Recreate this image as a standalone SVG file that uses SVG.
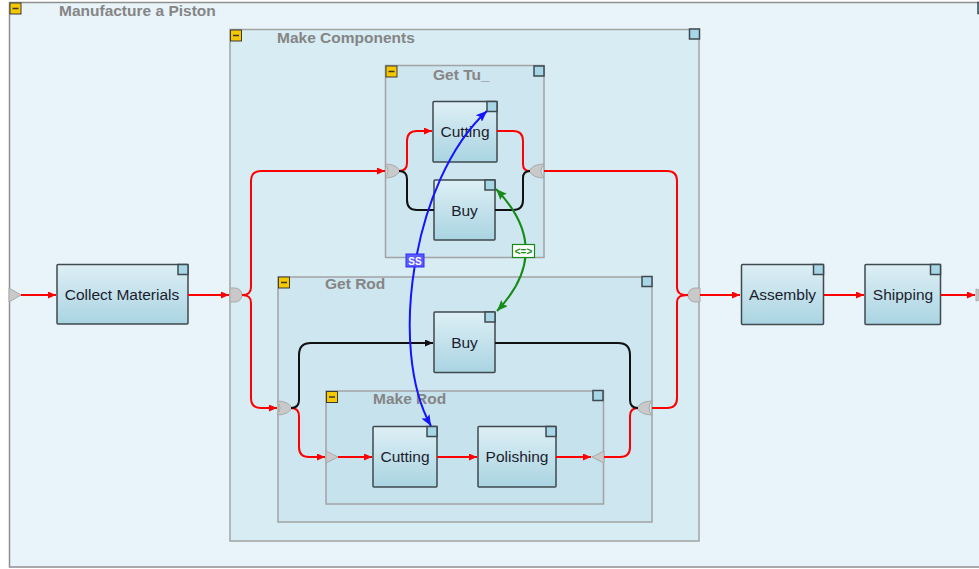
<svg xmlns="http://www.w3.org/2000/svg" width="979" height="569" viewBox="0 0 979 569">
<defs>
<linearGradient id="ng" x1="0" y1="0" x2="0" y2="1">
<stop offset="0" stop-color="#deeff5"/>
<stop offset="1" stop-color="#a9d4e2"/>
</linearGradient>
<marker id="ar" markerUnits="userSpaceOnUse" markerWidth="8" markerHeight="7" refX="8" refY="3.5" orient="auto"><path d="M0,0 L8,3.5 L0,7 z" fill="#ff0000"/></marker>
<marker id="ak" markerUnits="userSpaceOnUse" markerWidth="8" markerHeight="7" refX="8" refY="3.5" orient="auto"><path d="M0,0 L8,3.5 L0,7 z" fill="#111111"/></marker>
<marker id="ab" markerUnits="userSpaceOnUse" markerWidth="11" markerHeight="9" refX="11" refY="4.5" orient="auto-start-reverse"><path d="M0,0 L11,4.5 L0,9 L2,4.5 z" fill="#1414ff"/></marker>
<marker id="ag" markerUnits="userSpaceOnUse" markerWidth="11" markerHeight="9" refX="11" refY="4.5" orient="auto-start-reverse"><path d="M0,0 L11,4.5 L0,9 L2,4.5 z" fill="#178a17"/></marker>
</defs>
<style>
.grp{stroke:#a3a3a3;stroke-width:1.5}
.ttl{font-family:"Liberation Sans",Arial,sans-serif;font-weight:bold;font-size:15.5px;fill:#858585}
.node{fill:url(#ng);stroke:#3f494e;stroke-width:1.5}
.sq{fill:#a7d6e6;stroke:#3f494e;stroke-width:1.5}
.ico{fill:#f5c800;stroke:#3a3a3a;stroke-width:1}
.dash{stroke:#3a3a3a;stroke-width:1.5}
.lbl{font-family:"Liberation Sans",Arial,sans-serif;font-size:15.5px;fill:#1c1c2c;text-anchor:middle}
.jn{fill:#c9c9c9;stroke:#a9a9a9;stroke-width:1}
.r{fill:none;stroke:#ff0000;stroke-width:2}
.k{fill:none;stroke:#111111;stroke-width:2}
</style>
<rect x="0" y="0" width="979" height="569" fill="#ffffff"/>

<g id="manufacture-a-piston">
<rect x="9.5" y="2.5" width="990" height="564.5" fill="#e8f4f9" stroke="#8f8f8f" stroke-width="1.5"/>
<rect x="10" y="3" width="11" height="11" class="ico"/><line x1="12.5" y1="8.5" x2="18.5" y2="8.5" class="dash"/>
<text x="59" y="16" class="ttl">Manufacture a Piston</text>
<rect x="978" y="2.5" width="11" height="11" class="sq"/>
<path d="M9,288 L21,295 L9,302 z" class="jn"/>
<path d="M976,289 L979,290 L979,300 L976,301 z" class="jn"/>
</g>

<g id="make-components">
<rect x="230" y="29.5" width="469" height="511.5" fill="#d8ecf4" class="grp"/>
<rect x="230.5" y="30" width="11" height="11" class="ico"/><line x1="233" y1="35.5" x2="239" y2="35.5" class="dash"/>
<text x="277" y="43" class="ttl">Make Components</text>
<rect x="689.5" y="29" width="10" height="10" class="sq"/>
<path d="M230,288 H235 A7,7 0 0 1 235,302 H230 z" class="jn"/>
<path d="M700,288 H695 A7,7 0 0 0 695,302 H700 z" class="jn"/>
</g>

<g id="get-tube">
<rect x="385.5" y="65.5" width="158.5" height="192" fill="#cde6f0" class="grp"/>
<rect x="386" y="66" width="11" height="11" class="ico"/><line x1="388.5" y1="71.5" x2="394.5" y2="71.5" class="dash"/>
<text x="433" y="80" class="ttl">Get Tu_</text>
<rect x="534" y="66" width="10" height="10" class="sq"/>
<path d="M385,164 Q391,171 385,178 Q396,178 400,171 Q396,164 385,164 z" class="jn"/>
<path d="M544,164 Q538,171 544,178 Q533,178 529,171 Q533,164 544,164 z" class="jn"/>
</g>

<g id="get-rod">
<rect x="278" y="277" width="374" height="245" fill="#cde6f0" class="grp"/>
<rect x="278.5" y="277" width="11" height="11" class="ico"/><line x1="281" y1="282.5" x2="287" y2="282.5" class="dash"/>
<text x="325" y="289" class="ttl">Get Rod</text>
<rect x="642" y="276.5" width="10" height="10" class="sq"/>
<path d="M277,401 Q283,408 277,415 Q288,415 292,408 Q288,401 277,401 z" class="jn"/>
<path d="M652,401 Q646,408 652,415 Q641,415 637,408 Q641,401 652,401 z" class="jn"/>
</g>

<g id="make-rod">
<rect x="326" y="391" width="277.5" height="113" fill="#c5e2ed" class="grp"/>
<rect x="326.5" y="391.5" width="11" height="11" class="ico"/><line x1="329" y1="397" x2="335" y2="397" class="dash"/>
<text x="373" y="404" class="ttl">Make Rod</text>
<rect x="593" y="390.5" width="10" height="10" class="sq"/>
<path d="M326,451 L338,457 L326,463 z" class="jn"/>
<path d="M604,451 L592,457 L604,463 z" class="jn"/>
</g>

<g id="collect-materials">
<rect x="57" y="264.5" width="131" height="59.5" rx="1" class="node"/>
<rect x="178" y="264.5" width="10" height="10" class="sq"/>
<text x="122" y="299.5" class="lbl">Collect Materials</text>
</g>
<g id="tube-cutting">
<rect x="433" y="101.5" width="64" height="60.5" rx="1" class="node"/>
<rect x="487" y="101.5" width="10" height="10" class="sq"/>
<text x="465" y="137" class="lbl">Cutting</text>
</g>
<g id="tube-buy">
<rect x="434" y="180" width="61" height="60" rx="1" class="node"/>
<rect x="485" y="180" width="10" height="10" class="sq"/>
<text x="464.5" y="215.5" class="lbl">Buy</text>
</g>
<g id="rod-buy">
<rect x="434" y="312" width="61" height="60.5" rx="1" class="node"/>
<rect x="485" y="312" width="10" height="10" class="sq"/>
<text x="464.5" y="347.5" class="lbl">Buy</text>
</g>
<g id="rod-cutting">
<rect x="373" y="426.5" width="64" height="60.5" rx="1" class="node"/>
<rect x="427" y="426.5" width="10" height="10" class="sq"/>
<text x="405" y="462" class="lbl">Cutting</text>
</g>
<g id="polishing">
<rect x="478" y="426.5" width="78" height="60.5" rx="1" class="node"/>
<rect x="546" y="426.5" width="10" height="10" class="sq"/>
<text x="517" y="462" class="lbl">Polishing</text>
</g>
<g id="assembly">
<rect x="741.5" y="264.5" width="82" height="60" rx="1" class="node"/>
<rect x="813.5" y="264.5" width="10" height="10" class="sq"/>
<text x="782.5" y="299.5" class="lbl">Assembly</text>
</g>
<g id="shipping">
<rect x="865" y="264.5" width="75.5" height="60" rx="1" class="node"/>
<rect x="930.5" y="264.5" width="10" height="10" class="sq"/>
<text x="903" y="299.5" class="lbl">Shipping</text>
</g>

<g id="connectors">
<path d="M21,295 H56" class="r" marker-end="url(#ar)"/>
<path d="M188,295 H229" class="r" marker-end="url(#ar)"/>
<path d="M242,295 C248,295 251,293 251,287 V181 Q251,171 261,171 H385" class="r" marker-end="url(#ar)"/>
<path d="M242,295 C248,295 251,297 251,303 V398 Q251,408 261,408 H277" class="r" marker-end="url(#ar)"/>
<path d="M399,171 Q407,171 407,163 V141 Q407,131 417,131 H432" class="r" marker-end="url(#ar)"/>
<path d="M399,171 Q407,171 407,179 V200 Q407,210 417,210 H434" class="k"/>
<path d="M497,131 H513 Q523,131 523,141 V164 Q523,171 530,171" class="r"/>
<path d="M495,210 H513 Q523,210 523,200 V178 Q523,171 530,171" class="k"/>
<path d="M544,171 H667 Q677,171 677,181 V287 C677,293 680,295 688,295" class="r"/>
<path d="M652,408 H667 Q677,408 677,398 V303 C677,297 680,295 688,295" class="r"/>
<path d="M291,408 Q299,408 299,416 V447 Q299,457 309,457 H325" class="r" marker-end="url(#ar)"/>
<path d="M291,408 Q299,408 299,400 V355 Q299,343 311,343 H433" class="k" marker-end="url(#ak)"/>
<path d="M338,457 H372" class="r" marker-end="url(#ar)"/>
<path d="M437,457 H477" class="r" marker-end="url(#ar)"/>
<path d="M556,457 H591" class="r" marker-end="url(#ar)"/>
<path d="M604,457 H620 Q630,457 630,447 V416 Q630,408 638,408" class="r"/>
<path d="M495,343 H618 Q630,343 630,355 V400 Q630,408 638,408" class="k"/>
<path d="M700,295 H740" class="r" marker-end="url(#ar)"/>
<path d="M824,295 H864" class="r" marker-end="url(#ar)"/>
<path d="M941,295 H975" class="r" marker-end="url(#ar)"/>
<path d="M487,111 C412,180 388,350 431,426" fill="none" stroke="#1414ff" stroke-width="2" marker-start="url(#ab)" marker-end="url(#ab)"/>
<path d="M496,189 Q555,250 497,311" fill="none" stroke="#178a17" stroke-width="2" marker-start="url(#ag)" marker-end="url(#ag)"/>
<rect x="406" y="254" width="18" height="13" fill="#5a5aff" stroke="#2a2aff" stroke-width="1"/>
<text x="415" y="264.5" font-family="Liberation Sans,Arial,sans-serif" font-size="10" font-weight="bold" fill="#ffffff" text-anchor="middle">SS</text>
<rect x="512.5" y="244.5" width="22" height="13" fill="#ffffff" stroke="#178a17" stroke-width="1.2"/>
<text x="523.5" y="255" font-family="Liberation Sans,Arial,sans-serif" font-size="10" font-weight="bold" fill="#178a17" text-anchor="middle">&lt;=&gt;</text>
</g>
</svg>
